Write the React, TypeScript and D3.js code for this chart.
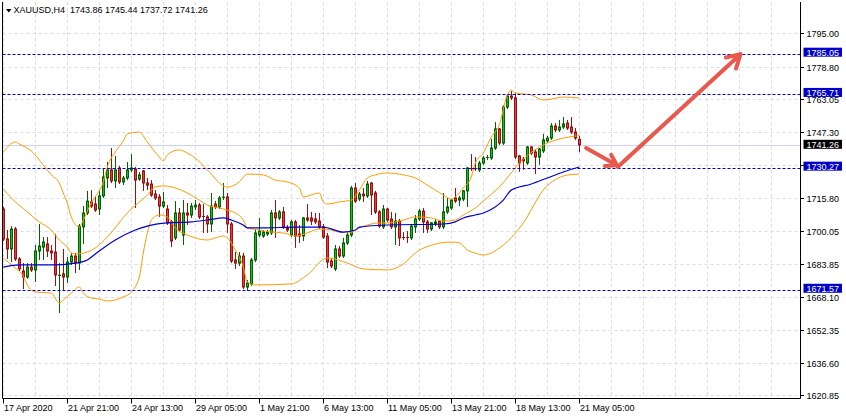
import React from "react";
import * as d3 from "d3";

const symbolName = "XAUUSD,H4";
const timeLabels = ["17 Apr 2020", "21 Apr 21:00", "24 Apr 13:00", "29 Apr 05:00", "1 May 21:00", "6 May 13:00", "11 May 05:00", "13 May 21:00", "18 May 13:00", "21 May 05:00"];
const timeLabelBars = [0, 16, 32, 48, 64, 80, 96, 112, 128, 144];
const priceTicks = [1795.0, 1778.8, 1763.05, 1747.3, 1731.55, 1715.8, 1700.05, 1683.85, 1668.1, 1652.35, 1636.6, 1620.85];
// 1731.55 is fully covered by the 1730.27 level box in the reference
const hiddenTickLabels = [1731.55];
const levelPrices = [1785.05, 1765.71, 1730.27, 1671.57];
const bidPrice = 1741.26;

const opens = [1710.4, 1696.0, 1691.2, 1700.8, 1686.4, 1680.6, 1677.7, 1682.5, 1681.1, 1690.2, 1692.1, 1693.6, 1690.2, 1689.7, 1678.2, 1679.2, 1677.7, 1684.9, 1687.8, 1684.4, 1701.8, 1708.5, 1713.8, 1712.8, 1710.4, 1716.7, 1725.3, 1729.2, 1723.9, 1730.1, 1723.4, 1725.3, 1729.2, 1729.6, 1724.8, 1728.7, 1722.9, 1722.4, 1717.6, 1716.2, 1711.8, 1710.4, 1704.2, 1696.5, 1708.5, 1697.9, 1708.5, 1707.5, 1711.4, 1712.3, 1707.0, 1706.6, 1703.2, 1712.8, 1711.4, 1715.7, 1716.2, 1703.2, 1685.9, 1684.4, 1687.8, 1672.9, 1674.4, 1685.9, 1697.9, 1697.4, 1698.4, 1698.9, 1708.5, 1706.1, 1709.0, 1701.3, 1697.9, 1704.2, 1698.4, 1697.4, 1706.1, 1706.1, 1705.6, 1704.6, 1701.8, 1697.4, 1685.4, 1681.6, 1691.2, 1687.8, 1694.1, 1697.9, 1720.5, 1715.2, 1717.6, 1716.7, 1722.9, 1718.1, 1709.0, 1701.8, 1710.4, 1705.6, 1701.8, 1704.6, 1696.9, 1696.9, 1696.5, 1701.8, 1705.6, 1709.4, 1704.2, 1700.8, 1703.2, 1704.6, 1701.8, 1709.0, 1710.9, 1715.7, 1714.7, 1715.2, 1719.1, 1730.1, 1730.1, 1729.2, 1732.5, 1734.9, 1734.9, 1739.7, 1748.9, 1742.1, 1759.4, 1764.7, 1763.8, 1735.9, 1734.4, 1732.5, 1740.2, 1737.8, 1735.4, 1738.3, 1743.1, 1744.5, 1750.3, 1748.4, 1749.8, 1751.7, 1749.8, 1747.4, 1743.86];
const highs = [1711.4, 1700.3, 1702.2, 1701.8, 1687.3, 1684.4, 1684.4, 1684.4, 1693.1, 1703.2, 1696.9, 1696.9, 1693.1, 1698.4, 1684.4, 1691.2, 1687.3, 1689.3, 1689.3, 1703.2, 1711.8, 1719.1, 1719.5, 1716.7, 1719.5, 1730.1, 1733.0, 1739.7, 1735.9, 1731.1, 1726.3, 1733.0, 1736.8, 1730.6, 1728.2, 1729.2, 1725.3, 1724.3, 1719.5, 1717.6, 1718.6, 1712.3, 1705.1, 1714.2, 1710.9, 1714.7, 1713.3, 1713.3, 1714.7, 1713.3, 1712.8, 1707.5, 1718.1, 1714.2, 1716.7, 1722.9, 1718.1, 1704.2, 1689.7, 1689.7, 1689.3, 1676.3, 1686.9, 1700.3, 1706.1, 1700.3, 1700.3, 1709.9, 1714.7, 1709.9, 1711.4, 1702.7, 1705.1, 1705.1, 1702.7, 1706.6, 1712.8, 1709.0, 1708.5, 1708.5, 1703.2, 1698.9, 1686.9, 1693.1, 1692.6, 1696.5, 1699.3, 1721.5, 1722.9, 1718.6, 1720.5, 1723.9, 1723.4, 1719.1, 1709.9, 1712.3, 1710.9, 1709.0, 1708.5, 1705.6, 1699.3, 1699.8, 1703.2, 1707.5, 1710.4, 1710.9, 1705.1, 1704.2, 1705.6, 1705.1, 1718.1, 1715.7, 1715.2, 1720.5, 1716.7, 1719.5, 1730.6, 1736.8, 1735.4, 1733.5, 1735.9, 1736.4, 1744.1, 1752.2, 1749.3, 1760.4, 1765.7, 1767.1, 1766.2, 1736.4, 1735.4, 1740.7, 1740.7, 1738.8, 1739.7, 1746.5, 1745.5, 1751.7, 1751.7, 1753.2, 1754.6, 1753.2, 1754.6, 1749.3, 1745.44];
const lows = [1695.0, 1686.4, 1684.9, 1685.4, 1680.6, 1671.9, 1676.8, 1680.1, 1675.3, 1685.9, 1685.9, 1687.3, 1685.9, 1673.4, 1660.4, 1671.0, 1674.8, 1683.5, 1679.6, 1681.1, 1693.6, 1707.5, 1710.9, 1709.0, 1707.5, 1715.7, 1720.5, 1722.9, 1720.5, 1722.4, 1721.9, 1724.3, 1728.2, 1710.9, 1723.9, 1719.1, 1719.5, 1716.2, 1714.7, 1706.6, 1710.9, 1702.7, 1692.1, 1695.5, 1699.3, 1693.1, 1702.7, 1706.1, 1709.9, 1705.6, 1698.9, 1698.9, 1699.3, 1710.4, 1710.4, 1714.7, 1698.9, 1684.4, 1681.6, 1683.0, 1671.9, 1671.0, 1673.4, 1684.9, 1696.9, 1696.5, 1697.4, 1697.9, 1696.5, 1705.1, 1700.8, 1699.3, 1696.9, 1691.7, 1694.1, 1695.0, 1704.2, 1702.7, 1703.2, 1700.8, 1696.0, 1682.0, 1682.0, 1680.6, 1686.9, 1686.9, 1693.1, 1696.9, 1713.3, 1714.2, 1713.8, 1715.7, 1707.5, 1708.0, 1701.3, 1700.8, 1704.2, 1700.8, 1693.1, 1692.6, 1695.5, 1694.1, 1695.5, 1698.9, 1704.6, 1698.9, 1698.9, 1699.8, 1702.2, 1700.8, 1700.8, 1708.0, 1709.9, 1713.3, 1711.8, 1714.2, 1711.4, 1728.7, 1728.7, 1728.2, 1731.6, 1734.0, 1734.0, 1738.8, 1741.2, 1741.2, 1758.5, 1762.8, 1734.4, 1728.2, 1729.2, 1731.6, 1736.4, 1727.2, 1731.6, 1737.3, 1742.1, 1743.6, 1747.4, 1747.4, 1748.9, 1748.4, 1746.5, 1743.6, 1737.72];
const closes = [1696.0, 1691.2, 1700.8, 1686.4, 1681.6, 1677.7, 1682.5, 1681.1, 1690.2, 1692.6, 1694.5, 1690.2, 1689.3, 1678.7, 1678.7, 1677.7, 1684.9, 1687.8, 1684.4, 1702.2, 1708.5, 1714.2, 1711.8, 1709.9, 1716.7, 1725.8, 1729.2, 1723.9, 1729.2, 1723.4, 1725.3, 1729.2, 1730.1, 1724.3, 1726.8, 1722.9, 1721.9, 1717.1, 1715.7, 1711.8, 1713.8, 1703.7, 1695.0, 1708.5, 1700.3, 1708.5, 1707.5, 1711.8, 1712.3, 1706.6, 1706.6, 1703.2, 1711.8, 1711.4, 1715.7, 1716.2, 1703.2, 1685.4, 1684.4, 1687.8, 1672.9, 1674.8, 1685.9, 1698.9, 1699.8, 1699.3, 1699.3, 1708.5, 1706.1, 1709.0, 1701.8, 1700.3, 1704.2, 1697.4, 1697.4, 1706.1, 1705.1, 1704.6, 1704.2, 1701.8, 1696.9, 1684.9, 1683.0, 1691.2, 1687.8, 1694.1, 1697.9, 1720.5, 1714.2, 1717.6, 1716.7, 1722.4, 1717.1, 1709.0, 1702.2, 1710.4, 1705.1, 1701.8, 1704.6, 1696.5, 1696.5, 1696.5, 1702.2, 1705.6, 1709.4, 1704.2, 1700.8, 1703.7, 1704.2, 1701.8, 1709.0, 1711.4, 1714.7, 1714.2, 1715.7, 1719.1, 1730.1, 1729.6, 1729.6, 1732.5, 1734.9, 1735.4, 1739.7, 1748.9, 1742.1, 1759.4, 1764.7, 1763.8, 1735.4, 1732.5, 1733.5, 1740.2, 1737.3, 1735.4, 1739.2, 1743.6, 1744.5, 1750.3, 1748.4, 1749.8, 1751.3, 1749.3, 1747.4, 1744.5, 1741.26];

// Indicator lines: [bar index, price]
const bbUpper: [number, number][] = [[0, 1737.8], [3, 1742.6], [4, 1741.6], [7, 1738.3], [10, 1731.6], [12, 1726.8], [14, 1722.9], [15, 1718.1], [16, 1713.3], [17, 1706.6], [19, 1701.7], [20, 1705.1], [22, 1713.3], [23, 1716.2], [25, 1723.4], [26, 1730.6], [28, 1737.8], [30, 1743.1], [31, 1746.5], [34, 1747.4], [36, 1742.6], [39, 1735.4], [40, 1733.5], [41, 1736.4], [44, 1738.8], [46, 1737.3], [48, 1734.9], [51, 1729.2], [56, 1720.9], [59, 1723.4], [61, 1727.2], [65, 1726.8], [68, 1724.3], [71, 1723.4], [74, 1720.5], [75, 1716.2], [79, 1718.1], [80, 1713.8], [81, 1712.8], [84, 1713.8], [87, 1714.7], [89, 1719.5], [91, 1725.3], [93, 1726.8], [96, 1727.7], [100, 1726.8], [103, 1725.3], [106, 1721.9], [108, 1719.5], [110, 1717.1], [112, 1715.2], [113, 1716.2], [115, 1720.5], [117, 1725.8], [118, 1732.5], [120, 1737.3], [122, 1745.0], [124, 1750.8], [126, 1765.2], [127, 1767.6], [128, 1766.2], [132, 1765.2], [135, 1762.8], [137, 1763.3], [140, 1764.2], [144, 1763.8]];
const bbMiddle: [number, number][] = [[0, 1720.0], [2, 1715.7], [6, 1709.0], [9, 1704.2], [12, 1700.3], [14, 1695.5], [16, 1692.1], [17, 1689.3], [18, 1688.8], [21, 1689.7], [23, 1691.7], [26, 1696.9], [31, 1708.5], [36, 1717.1], [38, 1721.0], [40, 1721.5], [43, 1720.5], [46, 1718.1], [49, 1714.7], [51, 1712.3], [54, 1710.9], [56, 1709.9], [58, 1708.5], [60, 1705.1], [61, 1701.3], [64, 1700.3], [67, 1699.3], [70, 1698.9], [73, 1697.4], [76, 1698.9], [79, 1700.8], [82, 1700.3], [84, 1699.3], [87, 1699.3], [89, 1701.3], [91, 1702.7], [94, 1703.7], [96, 1703.7], [100, 1705.1], [103, 1706.6], [107, 1706.1], [110, 1704.6], [113, 1705.1], [115, 1707.5], [118, 1710.9], [120, 1714.2], [124, 1721.0], [130, 1734.4], [135, 1741.2], [140, 1744.5], [144, 1745.7]];
const bbLower: [number, number][] = [[0, 1686.8], [3, 1682.0], [5, 1678.2], [6, 1673.9], [8, 1670.5], [12, 1670.0], [14, 1665.2], [15, 1666.7], [17, 1670.0], [19, 1672.9], [20, 1670.0], [22, 1667.6], [24, 1667.1], [26, 1666.2], [30, 1668.1], [32, 1670.5], [34, 1677.7], [35, 1689.3], [36, 1698.9], [37, 1705.1], [39, 1707.5], [41, 1706.6], [43, 1701.3], [46, 1697.9], [48, 1696.5], [51, 1695.5], [53, 1696.5], [55, 1697.4], [56, 1696.5], [58, 1690.7], [60, 1682.5], [61, 1675.3], [63, 1673.9], [72, 1674.4], [76, 1678.7], [81, 1686.9], [86, 1684.4], [90, 1681.6], [96, 1681.1], [100, 1684.0], [103, 1689.2], [105, 1691.6], [112, 1694.5], [114, 1694.1], [116, 1690.7], [118, 1689.2], [120, 1688.3], [124, 1691.6], [130, 1703.7], [135, 1719.5], [141, 1726.7], [144, 1727.2]];
const maLine: [number, number][] = [[0, 1682.5], [4, 1683.5], [12, 1683.5], [18, 1684.4], [21, 1685.9], [23, 1688.8], [28, 1695.5], [33, 1700.3], [36, 1702.2], [41, 1703.7], [47, 1704.2], [51, 1705.1], [55, 1706.1], [57, 1705.1], [60, 1702.7], [61, 1701.3], [65, 1701.3], [73, 1701.7], [80, 1701.7], [85, 1699.3], [88, 1700.3], [89, 1701.7], [96, 1702.7], [110, 1703.2], [113, 1704.2], [115, 1706.1], [118, 1707.5], [120, 1708.5], [125, 1714.7], [127, 1719.5], [132, 1722.4], [136, 1725.3], [140, 1728.2], [144, 1730.6]];

// Hand-drawn forecast arrows: [bar index, price]
const arrowDown: [number, number][] = [[145.7, 1739.7], [153.4, 1731.4]];
const arrowUp: [number, number][] = [[153.6, 1730.6], [184.3, 1784.8]];

const FONT = "'Liberation Sans', Arial, sans-serif";

function chevron(from: [number, number], to: [number, number], len: number, angDeg: number) {
  const a = Math.atan2(to[1] - from[1], to[0] - from[0]);
  const t = (angDeg * Math.PI) / 180;
  const p1: [number, number] = [to[0] - len * Math.cos(a - t), to[1] - len * Math.sin(a - t)];
  const p2: [number, number] = [to[0] - len * Math.cos(a + t), to[1] - len * Math.sin(a + t)];
  return `M${p1[0]},${p1[1]}L${to[0]},${to[1]}L${p2[0]},${p2[1]}`;
}

export default function App() {
  const W = 846;
  const H = 419;
  const plotLeft = 2.5;
  const plotRight = 800.5;
  const plotTop = 2;
  const plotBottom = 398.5;

  const x = d3.scaleLinear().domain([0, 199.35]).range([3.3, 800.7]);
  const y = d3.scaleLinear().domain([1620.85, 1795]).range([395.3, 33]);

  const line = d3
    .line<[number, number]>()
    .x((d) => x(d[0]))
    .y((d) => y(d[1]))
    .curve(d3.curveMonotoneX);

  const gridBars = d3.range(0, 200, 8);
  const greenFill = "#27b827";
  const greenLine = "#006400";
  const redFill = "#e63e3e";
  const redLine = "#a00f0f";
  const levelBlue = "#0000c8";
  const gridColor = "#d9d9ef";
  const arrowColor = "#e9584c";

  const last = opens.length - 1;
  const header = `${symbolName}  ${opens[last].toFixed(2)} ${highs[last].toFixed(2)} ${lows[last].toFixed(2)} ${closes[last].toFixed(2)}`;

  const toPx = (p: [number, number]): [number, number] => [x(p[0]), y(p[1])];
  const aD = arrowDown.map(toPx);
  const aU = arrowUp.map(toPx);

  return (
    <svg width={W} height={H} style={{ position: "absolute", left: 0, top: 0, background: "#fff" }} fontFamily={FONT}>
      <defs>
        <clipPath id="plot">
          <rect x={plotLeft} y={plotTop} width={plotRight - plotLeft} height={plotBottom - plotTop} />
        </clipPath>
      </defs>
      <rect x={0} y={0} width={W} height={H} fill="#fff" />

      {/* grid */}
      <g stroke={gridColor} strokeWidth={1} strokeDasharray="3,3" clipPath="url(#plot)">
        {gridBars.map((b) => (
          <line key={"vg" + b} x1={Math.round(x(b)) + 0.5} x2={Math.round(x(b)) + 0.5} y1={plotTop} y2={plotBottom} />
        ))}
        {priceTicks.map((p) => (
          <line key={"hg" + p} x1={plotLeft} x2={plotRight} y1={Math.round(y(p)) + 0.5} y2={Math.round(y(p)) + 0.5} />
        ))}
      </g>

      {/* bid line */}
      <line x1={plotLeft} x2={plotRight} y1={Math.round(y(bidPrice)) + 0.5} y2={Math.round(y(bidPrice)) + 0.5} stroke="#cfcff4" strokeWidth={1} />

      {/* candles */}
      <g clipPath="url(#plot)">
        {opens.map((o, i) => {
          const c = closes[i];
          const up = c >= o;
          const xc = Math.round(x(i));
          const yTop = y(Math.max(o, c));
          const yBot = y(Math.min(o, c));
          const bodyH = yBot - yTop;
          return (
            <g key={"c" + i}>
              <line x1={xc + 0.5} x2={xc + 0.5} y1={y(highs[i])} y2={y(lows[i])} stroke={up ? greenLine : redLine} strokeWidth={1} />
              {bodyH < 1.5 ? (
                <line x1={xc - 1} x2={xc + 2} y1={(yTop + yBot) / 2} y2={(yTop + yBot) / 2} stroke={up ? greenLine : redLine} strokeWidth={1.2} />
              ) : (
                <rect x={xc - 0.5} y={yTop} width={2} height={bodyH} fill={up ? greenFill : redFill} stroke={up ? greenLine : redLine} strokeWidth={1} />
              )}
            </g>
          );
        })}
      </g>

      {/* indicators */}
      <g fill="none" clipPath="url(#plot)">
        <path d={line(bbUpper) || ""} stroke="#ff9a00" strokeWidth={1} />
        <path d={line(bbMiddle) || ""} stroke="#ff9a00" strokeWidth={1} />
        <path d={line(bbLower) || ""} stroke="#ff9a00" strokeWidth={1} />
        <path d={line(maLine) || ""} stroke="#0000cd" strokeWidth={1.2} />
      </g>

      {/* horizontal levels */}
      <g stroke={levelBlue} strokeWidth={1} strokeDasharray="3,2">
        {levelPrices.map((p) => (
          <line key={"lv" + p} x1={plotLeft} x2={plotRight} y1={Math.round(y(p)) + 0.5} y2={Math.round(y(p)) + 0.5} />
        ))}
      </g>

      {/* arrows */}
      <g fill="none" stroke={arrowColor} strokeWidth={4} strokeLinecap="round" strokeLinejoin="round">
        <path d={`M${aD[0][0]},${aD[0][1]}L${aD[1][0]},${aD[1][1]}`} />
        <path d={chevron(aD[0], aD[1], 12, 32)} />
        <path d={`M${aU[0][0]},${aU[0][1]}L${aU[1][0]},${aU[1][1]}`} />
        <path d={chevron(aU[0], aU[1], 15, 30)} />
      </g>

      {/* frame */}
      <g stroke="#000" strokeWidth={1}>
        <line x1={plotLeft} x2={plotLeft} y1={plotTop} y2={plotBottom} />
        <line x1={plotRight} x2={plotRight} y1={plotTop} y2={plotBottom} />
        <line x1={plotLeft} x2={plotRight} y1={plotBottom} y2={plotBottom} />
      </g>

      {/* right price axis */}
      <g fontSize={9} fill="#000">
        {priceTicks.map((p) => {
          const yy = Math.round(y(p)) + 0.5;
          return (
            <g key={"pt" + p}>
              <line x1={plotRight} x2={plotRight + 3.5} y1={yy} y2={yy} stroke="#000" strokeWidth={1} />
              {hiddenTickLabels.includes(p) ? null : <text x={806.5} y={yy + 3}>{p.toFixed(2)}</text>}
            </g>
          );
        })}
      </g>

      {/* level labels */}
      <g fontSize={9}>
        {levelPrices.map((p) => {
          const yy = y(p);
          return (
            <g key={"ll" + p}>
              <rect x={803.5} y={yy - 6} width={38.5} height={9} fill={levelBlue} />
              <text x={806.5} y={yy + 2} fill="#fff">{p.toFixed(2)}</text>
            </g>
          );
        })}
        <rect x={803.5} y={y(bidPrice) - 5} width={38.5} height={9} fill="#000" />
        <text x={806.5} y={y(bidPrice) + 3} fill="#fff">{bidPrice.toFixed(2)}</text>
      </g>

      {/* bottom time axis */}
      <g fontSize={9} fill="#000">
        {timeLabelBars.map((b, k) => {
          const xx = Math.round(x(b)) + 0.5;
          return (
            <g key={"tl" + b}>
              <line x1={xx} x2={xx} y1={plotBottom} y2={plotBottom + 5} stroke="#000" strokeWidth={1} />
              <text x={xx + 0.5} y={411}>{timeLabels[k]}</text>
            </g>
          );
        })}
      </g>

      {/* header */}
      <polygon points="6,9 11.5,9 8.75,12.5" fill="#000" />
      <text x={13.5} y={13} fontSize={9} fill="#000" style={{ whiteSpace: "pre" }}>
        {header}
      </text>
    </svg>
  );
}
